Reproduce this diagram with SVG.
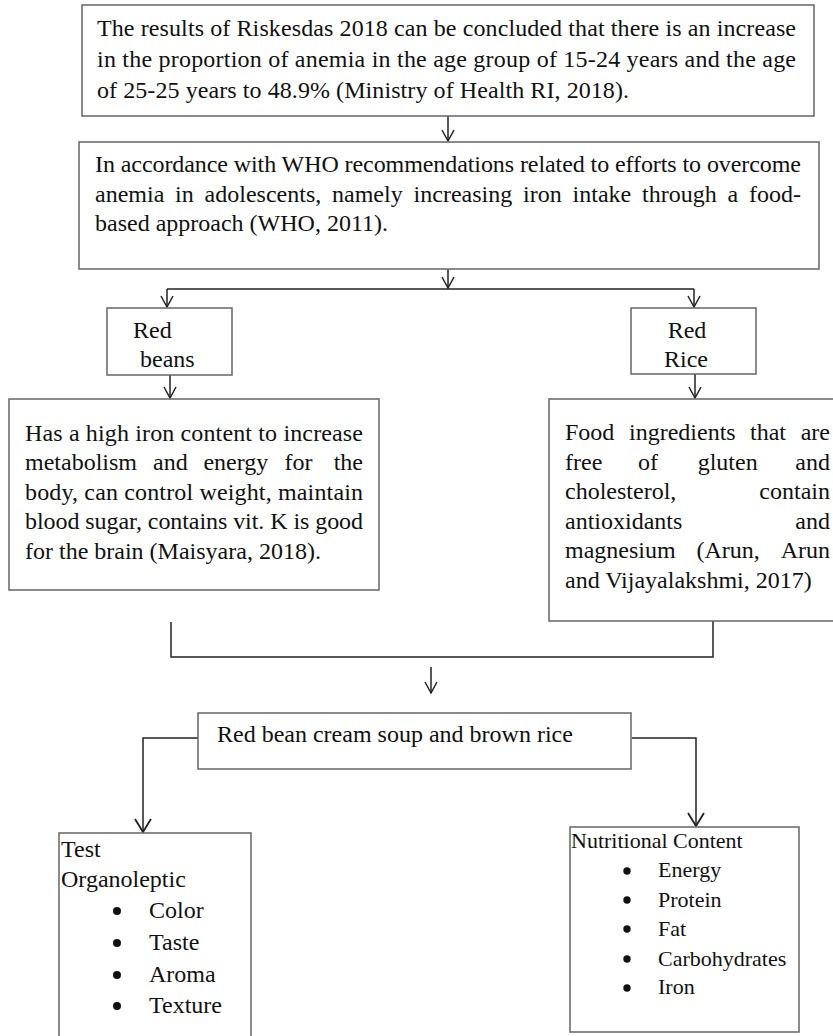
<svg xmlns="http://www.w3.org/2000/svg" width="833" height="1036" viewBox="0 0 833 1036">
<style>
.box{fill:#fff;stroke:#666;stroke-width:1.5}
.t{font-family:"Liberation Serif","Times New Roman",serif;font-size:24px;fill:#111}
.s{font-size:22px}
.c{fill:none;stroke:#222;stroke-width:1.5}
.b{fill:#111}
</style>
<defs>
<marker id="v" markerUnits="userSpaceOnUse" markerWidth="14" markerHeight="14" viewBox="-12 -7 13 14" refX="0" refY="0" orient="auto">
<path d="M-11,-6 L0,0 L-11,6" fill="none" stroke="#222" stroke-width="1.5"/>
</marker>
<marker id="V" markerUnits="userSpaceOnUse" markerWidth="16" markerHeight="18" viewBox="-14 -9 15 18" refX="0" refY="0" orient="auto">
<path d="M-13,-8 L0,0 L-13,8" fill="none" stroke="#222" stroke-width="1.8"/>
</marker>
</defs>
<rect width="833" height="1036" fill="#fff"/>
<g id="connectors">
<path class="c" d="M448,116 V141" marker-end="url(#v)"/>
<path class="c" d="M448,269 V288" marker-end="url(#v)"/>
<path class="c" d="M167,289 H694"/>
<path class="c" d="M167,289 V307" marker-end="url(#v)"/>
<path class="c" d="M694,289 V307" marker-end="url(#v)"/>
<path class="c" d="M170,375 V398" marker-end="url(#v)"/>
<path class="c" d="M695,374 V398" marker-end="url(#v)"/>
<path class="c" d="M171,622 V657 H713 V621"/>
<path class="c" d="M431,667 V693" marker-end="url(#v)"/>
<path class="c" d="M198,738 H143 V832" marker-end="url(#V)"/>
<path class="c" d="M632,738 H696 V826" marker-end="url(#V)"/>
</g>
<g id="riskesdas">
<rect class="box" x="82" y="5" width="732" height="111"/>
<text class="t" x="97" y="36" textLength="699" lengthAdjust="spacing">The results of Riskesdas 2018 can be concluded that there is an increase</text>
<text class="t" x="97" y="67" textLength="699" lengthAdjust="spacing">in the proportion of anemia in the age group of 15-24 years and the age</text>
<text class="t" x="97" y="98" textLength="532" lengthAdjust="spacing">of 25-25 years to 48.9% (Ministry of Health RI, 2018).</text>
</g>
<g id="who">
<rect class="box" x="79" y="142" width="740" height="127"/>
<text class="t" x="95" y="172" textLength="706" lengthAdjust="spacing">In accordance with WHO recommendations related to efforts to overcome</text>
<text class="t" y="202"><tspan x="95">anemia</tspan> <tspan x="175">in</tspan> <tspan x="204.6">adolescents,</tspan> <tspan x="332">namely</tspan> <tspan x="413.6">increasing</tspan> <tspan x="523">iron</tspan> <tspan x="572.6">intake</tspan> <tspan x="642">through</tspan> <tspan x="727.6">a</tspan> <tspan x="801" text-anchor="end">food-</tspan></text>
<text class="t" x="95" y="231">based approach (WHO, 2011).</text>
</g>
<g id="red-beans">
<rect class="box" x="107" y="308" width="125" height="67"/>
<text class="t" x="133" y="338">Red</text>
<text class="t" x="140" y="367">beans</text>
</g>
<g id="red-rice">
<rect class="box" x="631" y="308" width="125" height="66"/>
<text class="t" x="687" y="338" text-anchor="middle">Red</text>
<text class="t" x="686" y="367" text-anchor="middle">Rice</text>
</g>
<g id="beans-info">
<rect class="box" x="9" y="399" width="370" height="191"/>
<text class="t" x="25" y="441" textLength="338" lengthAdjust="spacing">Has a high iron content to increase</text>
<text class="t" y="470"><tspan x="25">metabolism</tspan> <tspan x="153">and</tspan> <tspan x="203.4">energy</tspan> <tspan x="284.5">for</tspan> <tspan x="363" text-anchor="end">the</tspan></text>
<text class="t" x="25" y="500" textLength="338" lengthAdjust="spacing">body, can control weight, maintain</text>
<text class="t" x="25" y="529" textLength="338" lengthAdjust="spacing">blood sugar, contains vit. K is good</text>
<text class="t" x="25" y="559">for the brain (Maisyara, 2018).</text>
</g>
<g id="rice-info">
<rect class="box" x="549" y="399" width="300" height="222"/>
<text class="t" y="440"><tspan x="565">Food</tspan> <tspan x="629">ingredients</tspan> <tspan x="750">that</tspan> <tspan x="830" text-anchor="end">are</tspan></text>
<text class="t" y="469.5"><tspan x="565">free</tspan> <tspan x="638">of</tspan> <tspan x="697.7">gluten</tspan> <tspan x="830" text-anchor="end">and</tspan></text>
<text class="t" y="499"><tspan x="565">cholesterol,</tspan> <tspan x="830" text-anchor="end">contain</tspan></text>
<text class="t" y="528.5"><tspan x="565">antioxidants</tspan> <tspan x="830" text-anchor="end">and</tspan></text>
<text class="t" y="558"><tspan x="565">magnesium</tspan> <tspan x="696.5">(Arun,</tspan> <tspan x="830" text-anchor="end">Arun</tspan></text>
<text class="t" x="565" y="587.5">and Vijayalakshmi, 2017)</text>
</g>
<g id="soup">
<rect class="box" x="198" y="713" width="433" height="56"/>
<text class="t" x="217" y="742">Red bean cream soup and brown rice</text>
</g>
<g id="organoleptic">
<rect class="box" x="59" y="833" width="192" height="210"/>
<text class="t" x="61" y="857">Test</text>
<text class="t" x="61" y="887">Organoleptic</text>
<circle class="b" cx="117" cy="911" r="4"/><text class="t" x="149" y="918">Color</text>
<circle class="b" cx="117" cy="943" r="4"/><text class="t" x="149" y="950">Taste</text>
<circle class="b" cx="117" cy="975" r="4"/><text class="t" x="149" y="982">Aroma</text>
<circle class="b" cx="117" cy="1006" r="4"/><text class="t" x="149" y="1013">Texture</text>
</g>
<g id="nutrition">
<rect class="box" x="570" y="827" width="229" height="205"/>
<text class="t s" x="571" y="848">Nutritional Content</text>
<circle class="b" cx="627" cy="871" r="3.7"/><text class="t s" x="658" y="877">Energy</text>
<circle class="b" cx="627" cy="900" r="3.7"/><text class="t s" x="658" y="907">Protein</text>
<circle class="b" cx="627" cy="929" r="3.7"/><text class="t s" x="658" y="936">Fat</text>
<circle class="b" cx="627" cy="959" r="3.7"/><text class="t s" x="658" y="966">Carbohydrates</text>
<circle class="b" cx="627" cy="988" r="3.7"/><text class="t s" x="658" y="994">Iron</text>
</g>
</svg>
